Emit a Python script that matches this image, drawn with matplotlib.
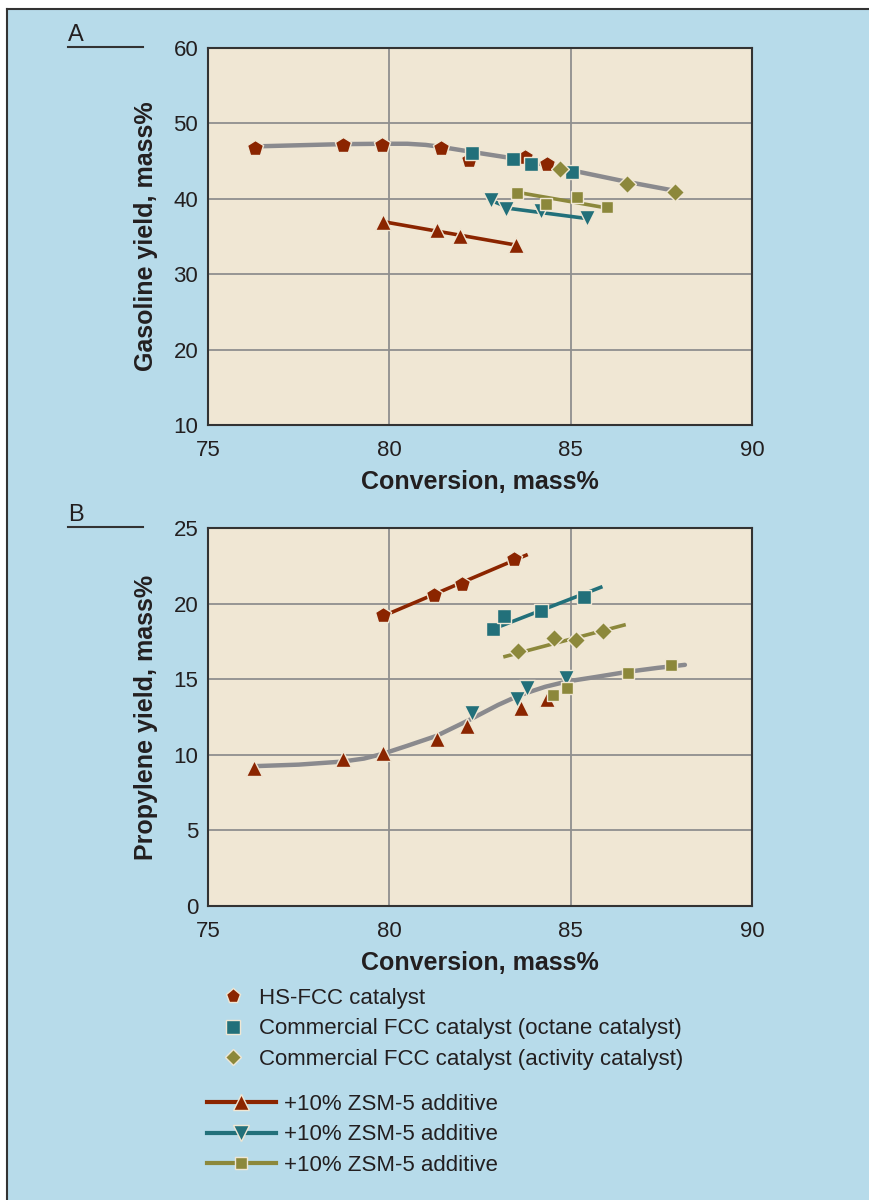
import matplotlib
matplotlib.use('Agg')
import matplotlib.pyplot as plt
from matplotlib.lines import Line2D
from matplotlib.patches import Rectangle

plt.rcParams['font.family'] = ['Liberation Sans', 'DejaVu Sans']

# ---- colours ----
BLUE = '#b7dbea'
CREAM = '#f0e7d4'
RED = '#8b2500'
TEAL = '#22707a'
OLIVE = '#8c883b'
GREY = '#8a8a8e'
GRID = '#8f8f8f'
TXT = '#231f20'

# ---- panel A: gasoline yield ----
a_hs_x = [76.30, 78.73, 79.80, 81.42, 82.21, 83.74, 84.36]
a_hs_y = [46.8, 47.2, 47.2, 46.8, 45.1, 45.6, 44.6]
a_oct_x = [82.27, 83.42, 83.91, 85.03]
a_oct_y = [46.1, 45.3, 44.6, 43.5]
a_act_x = [84.71, 86.54, 87.88]
a_act_y = [43.9, 42.0, 40.9]
a_trend_x = [76.3, 77.5, 78.7, 79.8, 80.5, 81.0, 81.4, 82.3, 83.5, 84.7, 85.5, 86.5, 88.0]
a_trend_y = [46.95, 47.1, 47.25, 47.3, 47.3, 47.15, 46.9, 46.2, 45.3, 44.1, 43.3, 42.3, 40.95]

a_hsz_x = [79.82, 81.31, 81.96, 83.48]
a_hsz_y = [36.9, 35.8, 35.1, 33.9]
a_hsz_lx = [79.85, 83.45]
a_hsz_ly = [36.95, 33.9]
a_octz_x = [82.79, 83.23, 84.19, 85.45]
a_octz_y = [39.8, 38.7, 38.4, 37.4]
a_octz_lx = [82.85, 83.35, 85.5]
a_octz_ly = [39.7, 38.7, 37.35]
a_actz_x = [83.53, 84.32, 85.17, 86.00]
a_actz_y = [40.8, 39.3, 40.2, 38.9]
a_actz_lx = [83.6, 86.04]
a_actz_ly = [40.8, 38.75]

# ---- panel B: propylene yield ----
b_hs_x = [79.83, 81.24, 81.99, 83.45]
b_hs_y = [19.25, 20.55, 21.3, 22.95]
b_hs_lx = [79.85, 83.77]
b_hs_ly = [19.2, 23.2]
b_oct_x = [82.85, 83.16, 84.17, 85.37]
b_oct_y = [18.3, 19.15, 19.5, 20.45]
b_oct_lx = [83.0, 85.83]
b_oct_ly = [18.45, 21.08]
b_act_x = [83.54, 84.55, 85.14, 85.90]
b_act_y = [16.85, 17.75, 17.6, 18.2]
b_act_lx = [83.19, 86.47]
b_act_ly = [16.5, 18.58]

b_hsz_x = [76.28, 78.73, 79.83, 81.32, 82.13, 83.62, 84.36]
b_hsz_y = [9.1, 9.75, 10.15, 11.05, 11.9, 13.1, 13.7]
b_octz_x = [82.27, 83.51, 83.80, 84.87]
b_octz_y = [12.75, 13.7, 14.4, 15.05]
b_actz_x = [84.50, 84.89, 86.59, 87.76]
b_actz_y = [13.95, 14.4, 15.43, 15.92]
b_trend_x = [76.3, 77.5, 78.7, 79.3, 79.8, 80.5, 81.3, 82.2, 83.0, 83.6, 84.3, 84.9, 85.7, 86.6, 87.4, 88.15]
b_trend_y = [9.25, 9.35, 9.55, 9.75, 10.05, 10.6, 11.25, 12.3, 13.3, 13.95, 14.5, 14.85, 15.15, 15.5, 15.75, 15.95]

legend_marker_labels = ['HS-FCC catalyst',
                        'Commercial FCC catalyst (octane catalyst)',
                        'Commercial FCC catalyst (activity catalyst)']
legend_line_labels = ['+10% ZSM-5 additive'] * 3

fig = plt.figure(figsize=(8.69, 12.0), dpi=100)
fig.patch.set_facecolor('white')

# blue background panel with dark left/top border
W, H = 869.0, 1200.0
fig.patches.append(Rectangle((7 / W, 0), 1 - 7 / W, 1 - 9 / H, transform=fig.transFigure,
                             facecolor=BLUE, edgecolor='none', zorder=-10))
fig.add_artist(Line2D([7 / W, 1], [1 - 9 / H, 1 - 9 / H], color='#333333', lw=1.5))
fig.add_artist(Line2D([7 / W, 7 / W], [0, 1 - 9 / H], color='#333333', lw=1.5))

mk = dict(markeredgecolor=CREAM, markeredgewidth=1.0, linestyle='none', zorder=5)


def style_axes(ax, ylim, yticks, ylabel):
    ax.set_facecolor(CREAM)
    ax.set_xlim(75, 90)
    ax.set_ylim(*ylim)
    ax.set_xticks([75, 80, 85, 90])
    ax.set_yticks(yticks)
    ax.tick_params(length=0, labelsize=16, colors=TXT)
    ax.tick_params(axis='x', pad=11)
    ax.tick_params(axis='y', pad=7)
    ax.grid(True, color=GRID, lw=1.3)
    ax.set_axisbelow(True)
    for s in ax.spines.values():
        s.set_color('#333333')
        s.set_linewidth(1.5)
    ax.set_xlabel('Conversion, mass%', fontsize=18, fontweight='bold', color=TXT, labelpad=6)
    ax.set_ylabel(ylabel, fontsize=18, fontweight='bold', color=TXT, labelpad=11)


# panel A
axA = fig.add_axes([208 / W, 1 - 425 / H, 544 / W, 377 / H])
style_axes(axA, (10, 60), [10, 20, 30, 40, 50, 60], 'Gasoline yield, mass%')
axA.plot(a_trend_x, a_trend_y, color=GREY, lw=3.2, solid_capstyle='round', zorder=3)
axA.plot(a_hsz_lx, a_hsz_ly, color=RED, lw=2.6, zorder=3)
axA.plot(a_octz_lx, a_octz_ly, color=TEAL, lw=2.6, zorder=3)
axA.plot(a_actz_lx, a_actz_ly, color=OLIVE, lw=2.6, zorder=3)
axA.plot(a_hs_x, a_hs_y, marker='p', ms=12, color=RED, **mk)
axA.plot(a_oct_x, a_oct_y, marker='s', ms=10.5, color=TEAL, **mk)
axA.plot(a_act_x, a_act_y, marker='D', ms=9, color=OLIVE, **mk)
axA.plot(a_hsz_x, a_hsz_y, marker='^', ms=11, color=RED, **mk)
axA.plot(a_octz_x, a_octz_y, marker='v', ms=11, color=TEAL, **mk)
axA.plot(a_actz_x, a_actz_y, marker='s', ms=9, color=OLIVE, **mk)

# panel B
axB = fig.add_axes([208 / W, 1 - 906 / H, 544 / W, 378 / H])
style_axes(axB, (0, 25), [0, 5, 10, 15, 20, 25], 'Propylene yield, mass%')
axB.plot(b_trend_x, b_trend_y, color=GREY, lw=3.2, solid_capstyle='round', zorder=3)
axB.plot(b_hs_lx, b_hs_ly, color=RED, lw=2.6, zorder=3)
axB.plot(b_oct_lx, b_oct_ly, color=TEAL, lw=2.6, zorder=3)
axB.plot(b_act_lx, b_act_ly, color=OLIVE, lw=2.6, zorder=3)
axB.plot(b_hs_x, b_hs_y, marker='p', ms=12, color=RED, **mk)
axB.plot(b_oct_x, b_oct_y, marker='s', ms=10.5, color=TEAL, **mk)
axB.plot(b_act_x, b_act_y, marker='D', ms=9, color=OLIVE, **mk)
axB.plot(b_hsz_x, b_hsz_y, marker='^', ms=11, color=RED, **mk)
axB.plot(b_octz_x, b_octz_y, marker='v', ms=11, color=TEAL, **mk)
axB.plot(b_actz_x, b_actz_y, marker='s', ms=9, color=OLIVE, **mk)

# panel letters with underline
for letter, ytxt, yline in [('A', 35, 47), ('B', 515, 527)]:
    fig.text(68 / W, 1 - ytxt / H, letter, fontsize=17, color=TXT, ha='left', va='center')
    fig.add_artist(Line2D([68 / W, 143 / W], [1 - yline / H, 1 - yline / H], color='#333333', lw=1.5))

# legends
h1 = [Line2D([], [], marker='p', ms=11, color=RED, markeredgecolor=CREAM, linestyle='none'),
      Line2D([], [], marker='s', ms=10, color=TEAL, markeredgecolor=CREAM, linestyle='none'),
      Line2D([], [], marker='D', ms=8.5, color=OLIVE, markeredgecolor=CREAM, linestyle='none')]
leg1 = fig.legend(h1, legend_marker_labels, loc='upper left', bbox_to_anchor=(222 / W, 1 - 988 / H),
                  frameon=False, fontsize=16, handlelength=1.0, handletextpad=0.65,
                  labelspacing=0.42, borderpad=0, borderaxespad=0)
for t in leg1.get_texts():
    t.set_color(TXT)

h2 = [Line2D([], [], marker='^', ms=11, color=RED, lw=3, markeredgecolor=CREAM),
      Line2D([], [], marker='v', ms=11, color=TEAL, lw=3, markeredgecolor=CREAM),
      Line2D([], [], marker='s', ms=9, color=OLIVE, lw=3, markeredgecolor=CREAM)]
leg2 = fig.legend(h2, legend_line_labels, loc='upper left', bbox_to_anchor=(207 / W, 1 - 1094 / H),
                  frameon=False, fontsize=16, handlelength=3.1, handletextpad=0.35,
                  labelspacing=0.42, borderpad=0, borderaxespad=0)
for t in leg2.get_texts():
    t.set_color(TXT)

fig.savefig('out.png', dpi=100, facecolor=fig.get_facecolor())
